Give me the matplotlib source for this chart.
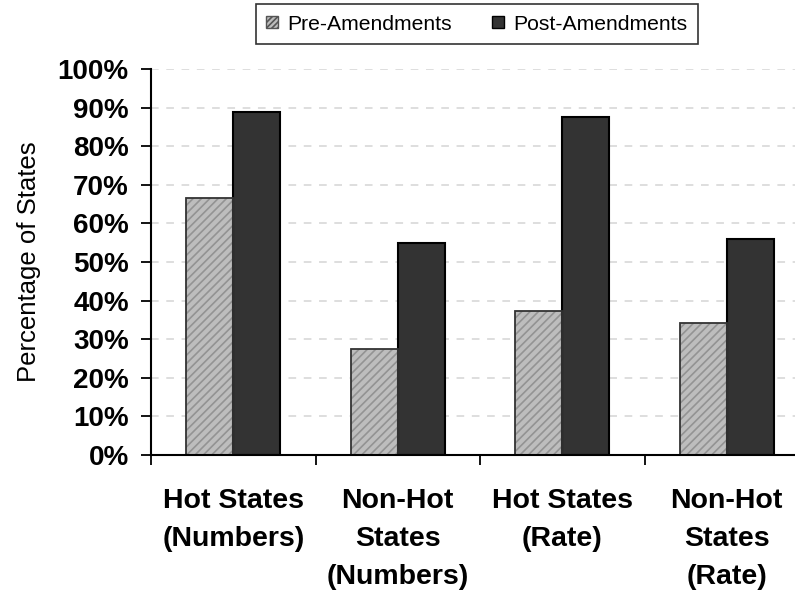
import numpy as np
import matplotlib
matplotlib.use("Agg")
import matplotlib.pyplot as plt
from matplotlib.patches import Patch

plt.rcParams['font.family'] = ['Liberation Sans', 'DejaVu Sans']
plt.rcParams['hatch.linewidth'] = 1.2

# share of states, before and after the amendments
categories = ['Hot States\n(Numbers)', 'Non-Hot\nStates\n(Numbers)',
              'Hot States\n(Rate)', 'Non-Hot\nStates\n(Rate)']
pre_amend = [0.667, 0.275, 0.373, 0.343]
post_amend = [0.889, 0.550, 0.876, 0.560]
series_names = ['Pre-Amendments', 'Post-Amendments']
yticks = np.arange(0, 1.01, 0.1)

pre_face = '#bdbdbd'
pre_hatch = '#939393'
post_face = '#333333'

fig = plt.figure(figsize=(7.95, 6.0), dpi=100)
ax = fig.add_axes([151 / 795, 145 / 600, 658 / 795, 386 / 600])

x = np.arange(len(categories))
w = 0.286

# hatched bars first, outline drawn on top so the edge can differ from the hatch
ax.bar(x - w / 2, pre_amend, w, color=pre_face, edgecolor=pre_hatch,
       hatch='////', linewidth=0, zorder=3)
ax.bar(x - w / 2, pre_amend, w, fill=False, edgecolor='#333333',
       linewidth=1.3, zorder=4)
ax.bar(x + w / 2, post_amend, w, color=post_face, edgecolor='black',
       linewidth=1.5, zorder=3)

ax.set_xlim(-0.5, len(categories) - 0.5)
ax.set_ylim(0, 1)

ax.set_yticks(yticks)
ax.set_yticklabels(['%d%%' % round(v * 100) for v in yticks],
                   fontsize=20, fontweight='bold')
ax.tick_params(axis='y', direction='out', length=7, width=1.3, pad=9)

ax.set_xticks(x)
ax.set_xticklabels(categories, fontsize=20.5, fontweight='bold',
                   linespacing=1.6)
ax.set_xticks(np.arange(-0.5, len(categories)), minor=True)
ax.tick_params(axis='x', which='major', length=0, pad=24)
ax.tick_params(axis='x', which='minor', direction='out', length=7, width=1.3)

ax.set_ylabel('Percentage of States', fontsize=18.5, labelpad=12)

for side in ['top', 'right']:
    ax.spines[side].set_visible(False)
for side in ['left', 'bottom']:
    ax.spines[side].set_linewidth(1.5)
    ax.spines[side].set_zorder(5)

ax.grid(axis='y', color='#d4d4d4', linestyle=(0, (5, 5)), linewidth=1.1,
        zorder=0)
ax.set_axisbelow(True)

handles = [Patch(facecolor=pre_face, edgecolor='#555555', hatch='//////',
                 linewidth=1),
           Patch(facecolor=post_face, edgecolor='black', linewidth=1)]
leg = fig.legend(handles, series_names, loc='center',
                 bbox_to_anchor=(477 / 795, 1 - 24 / 600), ncol=2,
                 fontsize=15.2, frameon=True, fancybox=False,
                 handlelength=0.55, handleheight=0.55, handletextpad=0.45,
                 columnspacing=1.9, borderpad=0.5, borderaxespad=0)
leg.get_frame().set_edgecolor('black')
leg.get_frame().set_linewidth(1.2)

fig.savefig('out.png', dpi=100)
